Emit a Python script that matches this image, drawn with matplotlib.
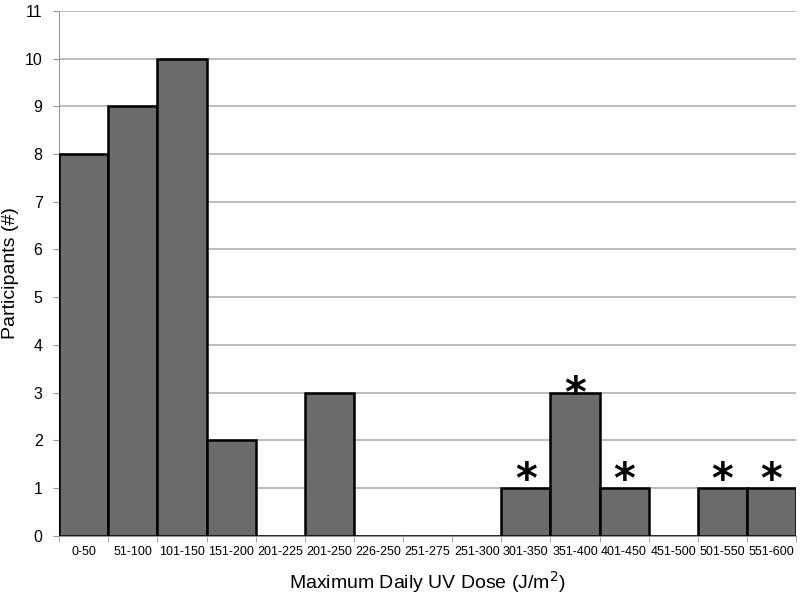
import matplotlib.pyplot as plt
import numpy as np

plt.rcParams['font.family'] = ['Liberation Sans', 'DejaVu Sans']

# --- data ---
dose_bins = ['0-50', '51-100', '101-150', '151-200', '201-225', '201-250',
             '226-250', '251-275', '251-300', '301-350', '351-400', '401-450',
             '451-500', '501-550', '551-600']
participants = [8, 9, 10, 2, 0, 3, 0, 0, 0, 1, 3, 1, 0, 1, 1]
starred = ['301-350', '351-400', '401-450', '501-550', '551-600']

fig = plt.figure(figsize=(8, 6), dpi=100)
ax = fig.add_axes([0.074, 0.107, 0.921, 0.875])

x = np.arange(len(dose_bins))
ax.bar(x, participants, width=1.0, color='#6b6b6b', edgecolor='black',
       linewidth=1.8, zorder=3)

for lab, val in zip(dose_bins, participants):
    if lab in starred:
        i = dose_bins.index(lab)
        # the tall bar's star sits a bit lower in the original
        off = 0.5 if val > 1 else 0.3
        ax.text(i, val - off, '*', ha='center', va='bottom', fontsize=30,
                fontweight='bold', family='DejaVu Sans', zorder=4)

ax.set_xlim(-0.5, len(dose_bins) - 0.5)
ax.set_ylim(0, 11)
ax.set_yticks(range(0, 12))
ax.yaxis.grid(True, color='#b0b0b0', linewidth=1.2, zorder=0)
ax.set_axisbelow(True)

ax.set_xticks(x)
ax.set_xticklabels(dose_bins, fontsize=9)
ax.set_xticks(np.arange(-0.5, len(dose_bins)), minor=True)
ax.tick_params(axis='x', which='major', length=0, pad=7)
ax.tick_params(axis='x', which='minor', length=4, color='#999999')
ax.tick_params(axis='y', length=4, color='#999999', labelsize=11.5, pad=8)

for s in ['top', 'right']:
    ax.spines[s].set_visible(False)
ax.spines['left'].set_color('#999999')
ax.spines['bottom'].set_color('#999999')

ax.set_xlabel('Maximum Daily UV Dose (J/m$^2$)', fontsize=14, labelpad=8)
ax.set_ylabel('Participants (#)', fontsize=14, labelpad=4)

plt.savefig('out.png', dpi=100)
plt.close()
